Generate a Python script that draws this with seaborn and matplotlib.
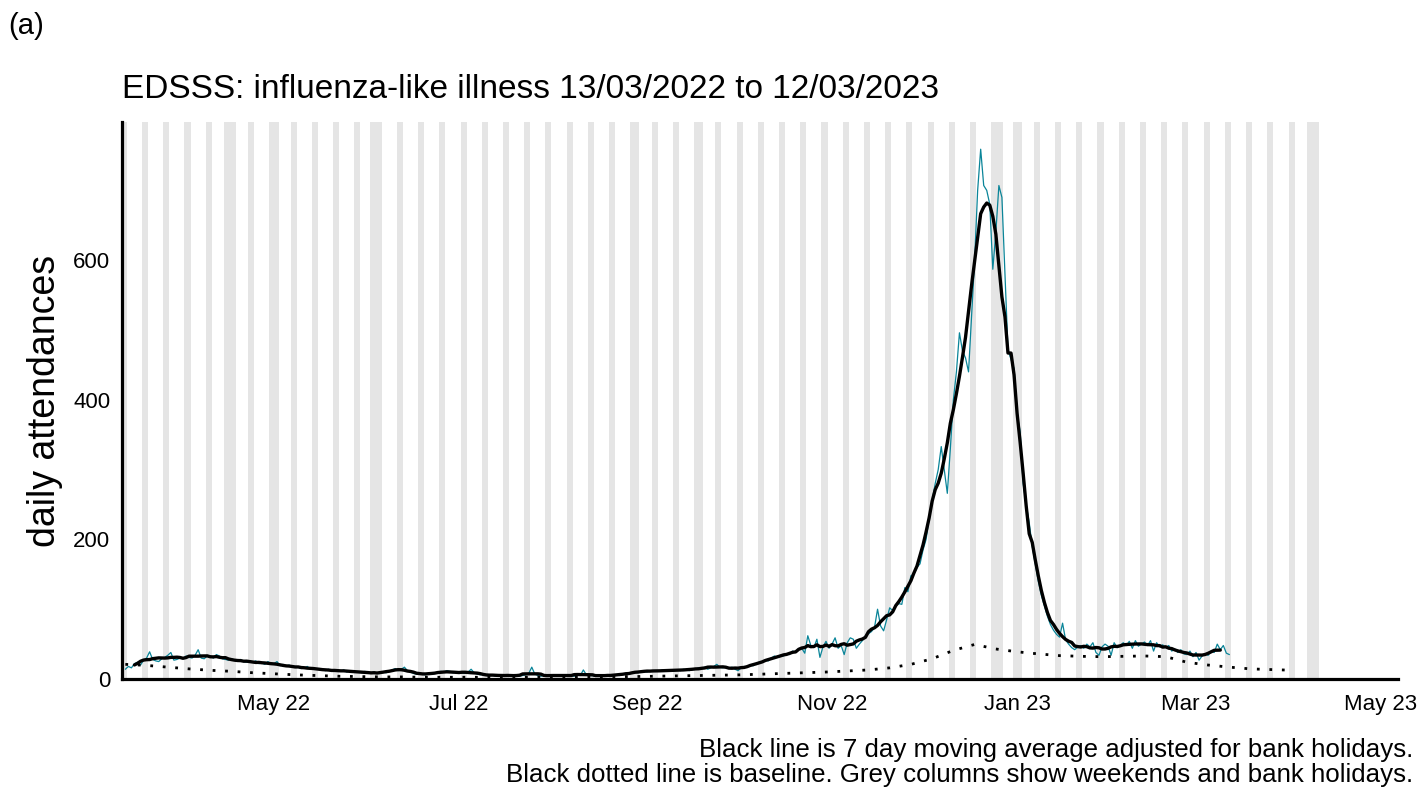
import pandas as pd
import seaborn as sns
import matplotlib.pyplot as plt
import matplotlib.dates as mdates

# Daily ILI attendances, 13/03/2022 .. 12/03/2023 (one row per week, Sun..Sat)
daily_counts = [
    14, 18, 16, 22, 24, 20, 27,
    30, 39, 28, 26, 25, 29, 31,
    34, 38, 27, 28, 30, 29, 33,
    31, 30, 34, 42, 30, 29, 33,
    33, 30, 35, 33, 29, 28, 27,
    29, 27, 26, 28, 25, 24, 26,
    24, 26, 22, 23, 21, 25, 22,
    22, 25, 19, 21, 18, 20, 17,
    18, 17, 15, 16, 18, 14, 15,
    14, 15, 13, 12, 14, 11, 13,
    12, 11, 13, 10, 12, 11, 10,
    10, 9, 11, 8, 9, 10, 8,
    8, 10, 9, 11, 13, 15, 12,
    14, 17, 12, 10, 8, 7, 8,
    7, 6, 8, 7, 8, 9, 11,
    10, 12, 11, 9, 10, 8, 9,
    8, 10, 14, 9, 7, 6, 7,
    6, 5, 6, 4, 5, 6, 5,
    5, 4, 6, 5, 4, 5, 6,
    8, 17, 7, 5, 4, 5, 6,
    5, 4, 5, 6, 4, 5, 6,
    5, 4, 6, 5, 13, 6, 5,
    5, 4, 5, 4, 5, 6, 5,
    5, 6, 5, 7, 8, 9, 8,
    10, 9, 11, 12, 10, 12, 11,
    12, 11, 13, 12, 11, 13, 12,
    13, 12, 14, 13, 12, 15, 14,
    16, 15, 17, 14, 16, 18, 21,
    17, 16, 18, 15, 17, 14, 12,
    16, 18, 17, 20, 19, 22, 24,
    24, 27, 26, 30, 33, 31, 34,
    33, 36, 35, 40, 38, 42, 44,
    37, 62, 48, 45, 57, 31, 46,
    54, 44, 50, 59, 44, 48, 35,
    52, 59, 57, 44, 50, 55, 62,
    65, 68, 74, 100, 76, 69, 85,
    102, 98, 105, 108, 107, 131, 125,
    148, 150, 160, 165, 185, 200, 230,
    255, 280, 300, 333, 300, 266, 330,
    400, 440, 496, 470, 460, 440, 520,
    600, 700, 759, 707, 700, 680, 587,
    640, 707, 690, 580, 472, 458, 445,
    380, 355, 280, 250, 224, 190, 165,
    140, 120, 105, 90, 78, 70, 64,
    60, 80, 56, 50, 45, 42, 46,
    48, 44, 50, 46, 52, 38, 34,
    46, 50, 47, 34, 52, 45, 48,
    52, 48, 54, 44, 55, 47, 50,
    53, 48, 55, 40, 52, 46, 49,
    45, 48, 40, 43, 38, 42, 36,
    35, 40, 32, 38, 27, 33, 36,
    34, 40, 38, 50, 42, 48, 37,
    35,
]

# Weekly baseline, starting 13/03/2022
baseline = [
    21, 19.5, 17, 14.5, 12.5, 11, 9, 7.5, 6, 5, 4, 3.5, 3, 3,
    2.5, 2.5, 2.5, 2.5, 2.5, 2.5, 3, 3, 3, 3.5, 3.5, 4, 4.5, 5,
    5.5, 6, 7, 8, 9, 10, 11.5, 13, 16, 21, 29, 41, 49.5, 43, 39, 36,
    33.5, 32.5, 32, 32.5, 33, 32, 24, 20, 17, 14.5, 13.5, 12.5,
]

bank_holidays = [
    "2022-04-15", "2022-04-18", "2022-05-02", "2022-06-02", "2022-06-03",
    "2022-08-29", "2022-09-19", "2022-12-26", "2022-12-27", "2023-01-02",
    "2023-04-07", "2023-04-10",
]

start = pd.Timestamp("2022-03-13")
dates = pd.date_range(start, periods=len(daily_counts), freq="D")
base_dates = pd.date_range(start, periods=len(baseline), freq="7D")
bh = pd.to_datetime(bank_holidays)

df = pd.DataFrame({"date": dates, "count": daily_counts})
# 7 day moving average, leaving bank holidays out of the window
adj = df["count"].where(~df["date"].isin(bh))
ma = adj.rolling(7, center=True, min_periods=4).mean()
ma.iloc[:3] = float("nan")
ma.iloc[-3:] = float("nan")
df["ma"] = ma
base_df = pd.DataFrame({"date": base_dates, "baseline": baseline})

sns.set_style("white")
plt.rcParams["font.family"] = ["Liberation Sans", "DejaVu Sans"]
plt.rcParams["text.color"] = "black"
plt.rcParams["axes.labelcolor"] = "black"

fig = plt.figure(figsize=(14.21, 7.89), dpi=100)
ax = fig.add_axes([0.0859, 0.1394, 0.8979, 0.7060])

# grey columns: weekends and bank holidays
for d in pd.date_range(start, "2023-04-10", freq="D"):
    if d.weekday() >= 5 or d in bh:
        ax.axvspan(d - pd.Timedelta(hours=12), d + pd.Timedelta(hours=12),
                   color="#E5E5E5", lw=0, zorder=0)

sns.lineplot(data=df, x="date", y="count", ax=ax, color="#0A8599", lw=0.9, zorder=2)
sns.lineplot(data=df, x="date", y="ma", ax=ax, color="black", lw=2.4, zorder=3)
sns.lineplot(data=base_df, x="date", y="baseline", ax=ax, color="black", lw=2.0,
             linestyle=(0, (1, 3.5)), zorder=3)

ax.set_xlim(pd.Timestamp("2022-03-11 22:00"), pd.Timestamp("2023-05-06 14:00"))
ax.set_ylim(0, 798)
ax.set_yticks([0, 200, 400, 600])
ax.xaxis.set_major_locator(mdates.MonthLocator(bymonth=[1, 3, 5, 7, 9, 11]))
ax.xaxis.set_major_formatter(mdates.DateFormatter("%b %y"))

ax.set_xlabel("")
ax.set_ylabel("daily attendances", fontsize=27, labelpad=7, color="black")
ax.set_title("EDSSS: influenza-like illness 13/03/2022 to 12/03/2023",
             loc="left", fontsize=24, pad=17, color="black")

for side in ["top", "right"]:
    ax.spines[side].set_visible(False)
for side in ["left", "bottom"]:
    ax.spines[side].set_linewidth(2.3)
    ax.spines[side].set_color("black")
ax.tick_params(axis="both", labelsize=16, length=5, width=1.3,
               color="#333333", labelcolor="black", direction="out")
ax.tick_params(axis="x", pad=6)

fig.text(0.006, 0.985, "(a)", fontsize=21, va="top", ha="left", color="black")
fig.text(0.9945, 0.002,
         "Black line is 7 day moving average adjusted for bank holidays.\n"
         "Black dotted line is baseline. Grey columns show weekends and bank holidays.",
         ha="right", va="bottom", fontsize=18.6, multialignment="right",
         linespacing=1.1, color="black")

plt.savefig("out.png", dpi=100)
plt.close()
